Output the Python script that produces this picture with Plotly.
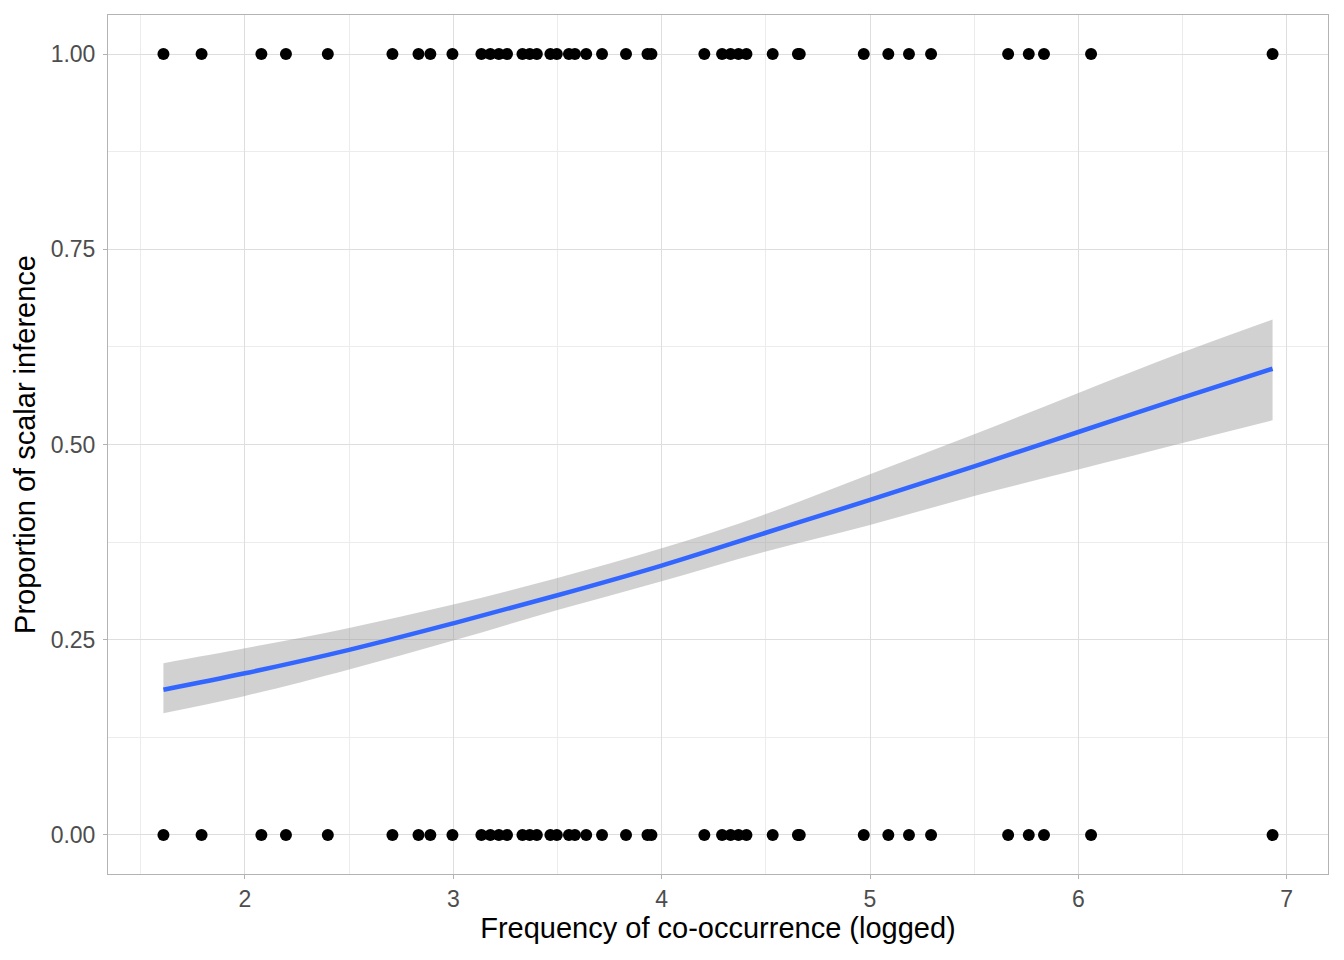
import plotly.graph_objects as go

# punten (gelogde frequentie), uitkomst 1 en 0
x_inferred = [1.609, 1.792, 2.079, 2.197, 2.398, 2.708, 2.833, 2.890, 2.996,
              3.135, 3.178, 3.219, 3.258, 3.332, 3.367, 3.401, 3.466, 3.497,
              3.555, 3.584, 3.638, 3.714, 3.829, 3.932, 3.951, 4.205, 4.290,
              4.331, 4.369, 4.407, 4.533, 4.654, 4.663, 4.970, 5.088, 5.187,
              5.293, 5.663, 5.762, 5.835, 6.061, 6.932]
x_not_inferred = list(x_inferred)

fit_x = [1.609, 2.0, 2.5, 3.0, 3.5, 4.0, 4.5, 5.0, 5.5, 6.0, 6.5, 6.932]
fit_y = [0.186, 0.207, 0.237, 0.271, 0.307, 0.345, 0.387, 0.429, 0.472, 0.516, 0.560, 0.597]
fit_lo = [0.156, 0.178, 0.212, 0.249, 0.288, 0.325, 0.363, 0.397, 0.434, 0.468, 0.502, 0.531]
fit_hi = [0.220, 0.239, 0.265, 0.295, 0.329, 0.367, 0.411, 0.462, 0.513, 0.566, 0.618, 0.660]

x_ticks = [2, 3, 4, 5, 6, 7]
y_ticks = [0, 0.25, 0.5, 0.75, 1.0]
y_ticklabels = ["0.00", "0.25", "0.50", "0.75", "1.00"]

fig = go.Figure()

fig.add_trace(go.Scatter(x=x_inferred, y=[1] * len(x_inferred), mode="markers",
                         marker=dict(color="black", size=12), showlegend=False))
fig.add_trace(go.Scatter(x=x_not_inferred, y=[0] * len(x_not_inferred), mode="markers",
                         marker=dict(color="black", size=12), showlegend=False))

# band
fig.add_trace(go.Scatter(x=fit_x, y=fit_lo, mode="lines", line=dict(width=0, shape="spline"),
                         showlegend=False, hoverinfo="skip"))
fig.add_trace(go.Scatter(x=fit_x, y=fit_hi, mode="lines", line=dict(width=0, shape="spline"),
                         fill="tonexty", fillcolor="rgba(153,153,153,0.45)",
                         showlegend=False, hoverinfo="skip"))
fig.add_trace(go.Scatter(x=fit_x, y=fit_y, mode="lines",
                         line=dict(color="#3366FF", width=4.5, shape="spline"), showlegend=False))

axis_common = dict(
    showline=True, linecolor="#b3b3b3", linewidth=1, mirror=True,
    showgrid=True, gridcolor="#dedede", gridwidth=1,
    ticks="outside", ticklen=4, tickcolor="#b3b3b3",
    tickfont=dict(size=23, color="#4d4d4d"),
    zeroline=False,
)

# body heeft 8px marge, daarom breedte/hoogte iets kleiner
fig.update_layout(
    width=1336, height=952,
    plot_bgcolor="white", paper_bgcolor="white",
    font=dict(family="Liberation Sans, Arial, sans-serif"),
    margin=dict(l=100, r=16, t=7, b=86),
    xaxis=dict(axis_common, range=[1.343, 7.198], tickvals=x_ticks,
               minor=dict(dtick=0.5, tick0=1.5, showgrid=True, gridcolor="#ececec", gridwidth=0.6, ticks=""),
               title=dict(text="Frequency of co-occurrence (logged)", font=dict(size=29, color="black"), standoff=6)),
    yaxis=dict(axis_common, range=[-0.05, 1.05], tickvals=y_ticks, ticktext=y_ticklabels,
               ticklabelstandoff=3,
               minor=dict(dtick=0.125, tick0=0.125, showgrid=True, gridcolor="#ececec", gridwidth=0.6, ticks=""),
               title=dict(text="Proportion of scalar inference", font=dict(size=29, color="black"), standoff=6)),
)

fig.write_html("out.html")
